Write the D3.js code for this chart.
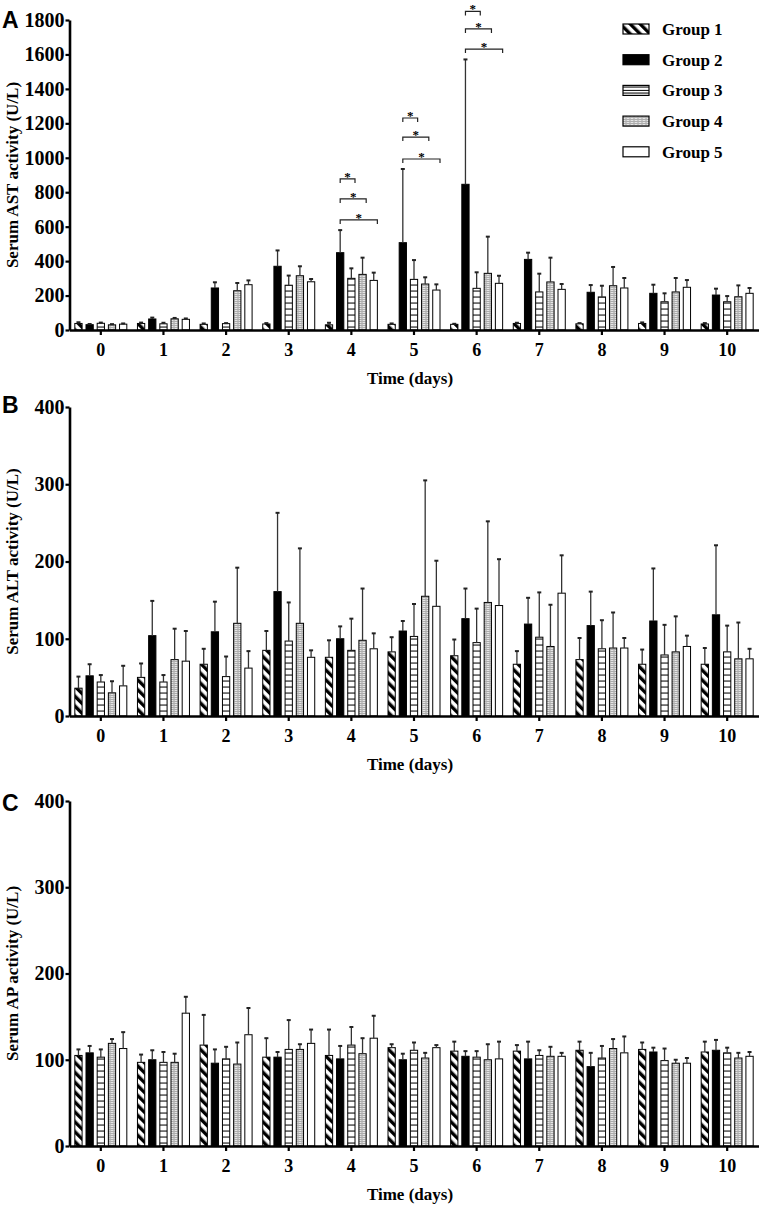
<!DOCTYPE html>
<html><head><meta charset="utf-8">
<script src="https://cdn.jsdelivr.net/npm/d3@7"></script>
<style>
html,body{margin:0;padding:0;background:#fff;}
svg{display:block;}
text{font-family:"Liberation Serif","Times New Roman",serif;font-weight:bold;fill:#000;}
</style></head>
<body>
<script>
// ---------------- DATA ----------------
const days = [0,1,2,3,4,5,6,7,8,9,10];
const groups = ["Group 1","Group 2","Group 3","Group 4","Group 5"];
const tickAST = [0,200,400,600,800,1000,1200,1400,1600,1800];
const tickALT = [0,100,200,300,400];
const tickAP = [0,100,200,300,400];

// AST means per group (rows = groups, columns = days)
const astMean = [
  [38,38,33,35,30,33,33,38,36,38,35],
  [31,64,244,370,449,507,846,410,219,213,203],
  [39,36,37,260,300,294,242,221,192,164,164],
  [30,65,228,315,323,267,329,279,257,221,193],
  [34,62,263,280,288,232,271,236,244,248,213]
];
// AST upper error (SD)
const astErr = [
  [7,5,5,5,12,5,3,4,4,6,5],
  [4,8,33,92,131,428,725,39,42,50,37],
  [4,6,3,56,58,112,93,106,65,49,33],
  [4,5,45,55,97,39,213,141,109,81,66],
  [4,5,25,16,45,33,44,31,58,42,31]
];
// ALT
const altMean = [
  [36,50,67,85,76,83,78,67,73,67,67],
  [52,104,109,161,100,110,126,119,117,123,131],
  [44,44,51,97,85,103,95,102,87,79,83],
  [30,73,120,120,98,155,147,90,88,83,74],
  [39,71,62,76,87,142,143,159,88,90,74]
];
const altErr = [
  [15,18,20,25,22,19,21,17,28,19,21],
  [15,45,39,102,16,13,39,34,44,68,90],
  [9,9,26,50,41,42,44,58,37,39,34],
  [15,40,72,97,67,150,105,54,46,46,47],
  [26,39,22,9,20,59,60,49,13,14,13]
];
// AP
const apMean = [
  [105,97,117,103,105,114,110,110,111,112,109],
  [108,100,96,103,101,100,104,101,92,109,111],
  [103,97,101,112,117,111,103,105,102,99,108],
  [119,97,95,112,107,102,100,104,113,96,102],
  [113,154,129,119,125,114,101,104,108,96,104]
];
const apErr = [
  [7,9,35,22,30,4,11,7,10,8,12],
  [8,11,16,6,15,7,6,20,16,5,12],
  [9,12,14,34,21,9,7,6,14,14,6],
  [5,10,25,6,18,6,18,11,11,4,6],
  [19,19,31,16,26,3,20,4,19,6,5]
];
// significance brackets (AST panel): day, compared group index, bracket level (U/L)
const sigDays = [4,4,4,5,5,5,6,6,6];
const sigTarget = [2,3,4,2,3,4,2,3,4];
const sigLevel = [877,761,639,1231,1120,993,1850,1748,1631];

// ---------------- DRAW ----------------
const W = 762, H = 1205;
const svg = d3.select("body").append("svg").attr("width", W).attr("height", H);
const defs = svg.append("defs");

// pattern Group 1: diagonal stripes "\"
const p1 = defs.append("pattern").attr("id","pat1").attr("patternUnits","userSpaceOnUse")
  .attr("width",7).attr("height",7).attr("patternTransform","rotate(-45)");
p1.append("rect").attr("width",7).attr("height",7).attr("fill","#fff");
p1.append("rect").attr("x",0).attr("width",3.4).attr("height",7).attr("fill","#000");
// Group 3: horizontal lines
const p3 = defs.append("pattern").attr("id","pat3").attr("patternUnits","userSpaceOnUse")
  .attr("width",8).attr("height",6);
p3.append("rect").attr("width",8).attr("height",6).attr("fill","#fff");
p3.append("rect").attr("y",2.5).attr("width",8).attr("height",1.1).attr("fill","#111");
// Group 4: dotted / wavy texture
const p4 = defs.append("pattern").attr("id","pat4").attr("patternUnits","userSpaceOnUse")
  .attr("width",4).attr("height",4);
p4.append("rect").attr("width",4).attr("height",4).attr("fill","#fff");
p4.append("path").attr("d","M0,0.6 L1,1.6 L2,0.6 L3,1.6 L4,0.6 M0,2.6 L1,3.6 L2,2.6 L3,3.6 L4,2.6")
  .attr("fill","none").attr("stroke","#222").attr("stroke-width",0.7);

const fills = ["url(#pat1)","#000","url(#pat3)","url(#pat4)","#fff"];

const x = d3.scaleBand().domain(days).range([69.5,758.5]).padding(0);
const xg = d3.scaleBand().domain(d3.range(5)).range([-26,26]).paddingInner(0.35);

const panels = [
  {letter:"A", mean:astMean, err:astErr, ticks:tickAST, max:1800, y0:330, y1:20,
   title:"Serum AST activity (U/L)", letterY:28},
  {letter:"B", mean:altMean, err:altErr, ticks:tickALT, max:400, y0:716, y1:407,
   title:"Serum ALT activity (U/L)", letterY:413},
  {letter:"C", mean:apMean, err:apErr, ticks:tickAP, max:400, y0:1146, y1:801,
   title:"Serum AP activity (U/L)", letterY:811}
];

const panelScales = [];
panels.forEach((p,pi) => {
  const y = d3.scaleLinear().domain([0,p.max]).range([p.y0,p.y1]);
  panelScales.push(y);
  const g = svg.append("g");

  // bars
  p.mean.forEach((series,gi) => {
    g.selectAll(null).data(days).enter().append("rect")
      .attr("x", d => x(d) + x.bandwidth()/2 + xg(gi))
      .attr("width", xg.bandwidth())
      .attr("y", d => y(series[d]))
      .attr("height", d => y(0) - y(series[d]))
      .attr("fill", fills[gi]).attr("stroke","#000").attr("stroke-width",1);
    // error bars (upper)
    const cx = d => x(d) + x.bandwidth()/2 + xg(gi) + xg.bandwidth()/2;
    g.selectAll(null).data(days).enter().append("line")
      .attr("x1", cx).attr("x2", cx)
      .attr("y1", d => y(series[d]))
      .attr("y2", d => y(series[d] + p.err[gi][d]))
      .attr("stroke","#333").attr("stroke-width",1.3);
    g.selectAll(null).data(days).enter().append("line")
      .attr("x1", d => cx(d)-2).attr("x2", d => cx(d)+2)
      .attr("y1", d => y(series[d] + p.err[gi][d]))
      .attr("y2", d => y(series[d] + p.err[gi][d]))
      .attr("stroke","#222").attr("stroke-width",2);
  });

  // axes
  const xa = g.append("g").attr("transform",`translate(0,${p.y0})`)
    .call(d3.axisBottom(x).tickSize(5).tickSizeOuter(0).tickPadding(8));
  const ya = g.append("g").attr("transform",`translate(${x.range()[0]},0)`)
    .call(d3.axisLeft(y).tickValues(p.ticks).tickFormat(d3.format("d"))
      .tickSize(4).tickSizeOuter(0).tickPadding(1));
  [xa,ya].forEach((a,ai) => {
    a.attr("font-family",null).attr("font-size",null);
    a.select(".domain").attr("stroke","#000").attr("stroke-width",2.6);
    a.selectAll(".tick line").attr("stroke","#000").attr("stroke-width",2.2);
    a.selectAll(".tick text").style("font-family","'Liberation Serif',serif")
      .style("font-weight","bold").style("font-size", ai===0 ? "18px" : "20px").attr("fill","#000");
  });

  // axis titles
  g.append("text").attr("x",410).attr("y",p.y0+54).attr("text-anchor","middle")
    .attr("font-size",17).text("Time (days)");
  g.append("text").attr("transform",`translate(18,${(p.y0+p.y1)/2}) rotate(-90)`)
    .attr("text-anchor","middle").attr("font-size",17).text(p.title);
  // panel letter
  g.append("text").attr("x",2).attr("y",p.letterY)
    .style("font-family","'Liberation Sans',Arial,sans-serif").attr("font-size",23)
    .text(p.letter);
});

// significance brackets (AST)
const yA = panelScales[0];
const sg = svg.append("g");
sigDays.forEach((d,i) => {
  const x1 = x(d) + x.bandwidth()/2 + xg(1) + xg.bandwidth()/2;
  const x2 = x(d) + x.bandwidth()/2 + xg(sigTarget[i]) + xg.bandwidth();
  const yy = yA(sigLevel[i]);
  sg.append("path").attr("d",`M${x1},${yy+4}V${yy}H${x2}V${yy+4}`)
    .attr("fill","none").attr("stroke","#222").attr("stroke-width",1.2);
  sg.append("text").attr("x",(x1+x2)/2).attr("y",yy+2).attr("text-anchor","middle")
    .attr("font-size",13).attr("font-weight","normal").attr("fill","#000").text("*");
});

// legend
const lg = svg.append("g");
groups.forEach((name,i) => {
  const cy = 29 + i*30.7;
  lg.append("rect").attr("x",623).attr("y",cy-5).attr("width",26).attr("height",10)
    .attr("fill",fills[i]).attr("stroke","#000").attr("stroke-width",1.2);
  if (i===2) lg.append("line").attr("x1",623).attr("x2",649).attr("y1",cy).attr("y2",cy)
    .attr("stroke","#000").attr("stroke-width",1);
  lg.append("text").attr("x",662).attr("y",cy+6).attr("font-size",17).text(name);
});
</script>
</body></html>
